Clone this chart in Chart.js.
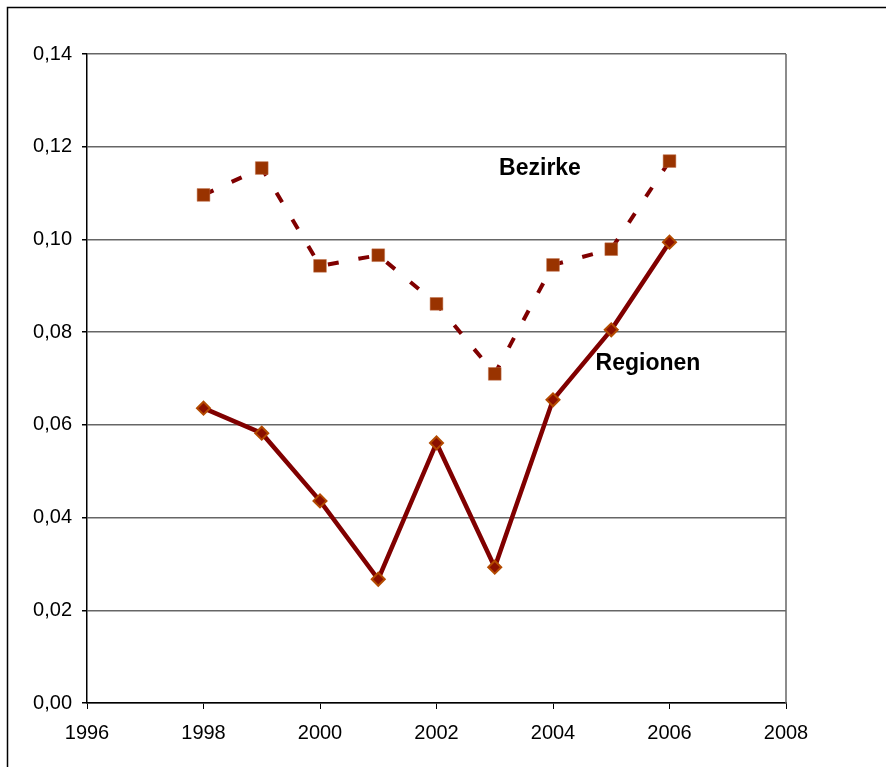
<!DOCTYPE html>
<html>
<head>
<meta charset="utf-8">
<script src="https://cdn.jsdelivr.net/npm/chart.js@4.4.1/dist/chart.umd.min.js"></script>
<style>
  html, body { margin: 0; padding: 0; background: #fff; }
  canvas { display: block; }
</style>
</head>
<body>
<canvas id="myChart" width="886" height="767"></canvas>
<script>
// Jahre und Werte der beiden Reihen
const years = [1998, 1999, 2000, 2001, 2002, 2003, 2004, 2005, 2006];
const bezirke = [0.1096, 0.1154, 0.0943, 0.0966, 0.0861, 0.0710, 0.0945, 0.0979, 0.1169];
const regionen = [0.0636, 0.0582, 0.0436, 0.0267, 0.0561, 0.0293, 0.0654, 0.0805, 0.0994];

const seriesLabels = ['Bezirke', 'Regionen'];
const seriesLabelPos = [{ x: 540, y: 169 }, { x: 648, y: 364 }];

const toPoints = values => values.map((v, i) => ({ x: years[i], y: v }));

// Rahmen um das Diagramm, rechter Rand der Zeichenfläche und Reihennamen
const framePlugin = {
  id: 'frame',
  afterDraw(chart) {
    const { ctx, chartArea } = chart;
    ctx.save();
    ctx.strokeStyle = '#000';
    ctx.lineWidth = 1.5;
    ctx.beginPath();
    ctx.moveTo(7.5, 800);
    ctx.lineTo(7.5, 7.5);
    ctx.lineTo(900, 7.5);
    ctx.stroke();

    ctx.strokeStyle = '#666';
    ctx.lineWidth = 1.5;
    ctx.beginPath();
    ctx.moveTo(chartArea.right, chartArea.top);
    ctx.lineTo(chartArea.right, chartArea.bottom);
    ctx.stroke();

    ctx.fillStyle = '#000';
    ctx.font = 'bold 23px "Liberation Sans", Arial, sans-serif';
    ctx.textAlign = 'center';
    ctx.textBaseline = 'middle';
    seriesLabels.forEach((t, i) => ctx.fillText(t, seriesLabelPos[i].x, seriesLabelPos[i].y));
    ctx.restore();
  }
};

const tickFont = { family: '"Liberation Sans", Arial, sans-serif', size: 20 };

new Chart(document.getElementById('myChart').getContext('2d'), {
  type: 'line',
  data: {
    datasets: [
      {
        label: seriesLabels[0],
        data: toPoints(bezirke),
        borderColor: '#800000',
        borderWidth: 4,
        borderDash: [11, 20],
        pointStyle: 'rect',
        pointRadius: 9,
        pointBackgroundColor: '#993300',
        pointBorderColor: '#c0704a',
        pointBorderWidth: 0.5,
        fill: false
      },
      {
        label: seriesLabels[1],
        data: toPoints(regionen),
        borderColor: '#800000',
        borderWidth: 4.5,
        pointStyle: 'rectRot',
        pointRadius: 6.5,
        pointBackgroundColor: '#8b1000',
        pointBorderColor: '#b34a00',
        pointBorderWidth: 2,
        fill: false
      }
    ]
  },
  options: {
    responsive: false,
    animation: false,
    layout: { padding: { left: 0, top: 54, right: 100, bottom: 0 } },
    plugins: {
      legend: { display: false },
      tooltip: { enabled: false }
    },
    scales: {
      x: {
        type: 'linear',
        min: 1996,
        max: 2008,
        afterFit: scale => { scale.height = 64; },
        ticks: {
          stepSize: 2,
          color: '#000',
          font: tickFont,
          padding: 12,
          callback: v => String(v)
        },
        grid: {
          drawOnChartArea: false,
          drawTicks: true,
          tickLength: 6,
          tickColor: '#000'
        },
        border: { color: '#000', width: 1.5 }
      },
      y: {
        min: 0,
        max: 0.14,
        afterFit: scale => { scale.width = 87; },
        ticks: {
          stepSize: 0.02,
          color: '#000',
          font: tickFont,
          padding: 10,
          callback: v => v.toFixed(2).replace('.', ',')
        },
        grid: {
          color: '#666',
          lineWidth: 1.5,
          drawTicks: true,
          tickLength: 5,
          tickColor: '#000'
        },
        border: { color: '#000', width: 1.5 }
      }
    }
  },
  plugins: [framePlugin]
});
</script>
</body>
</html>
